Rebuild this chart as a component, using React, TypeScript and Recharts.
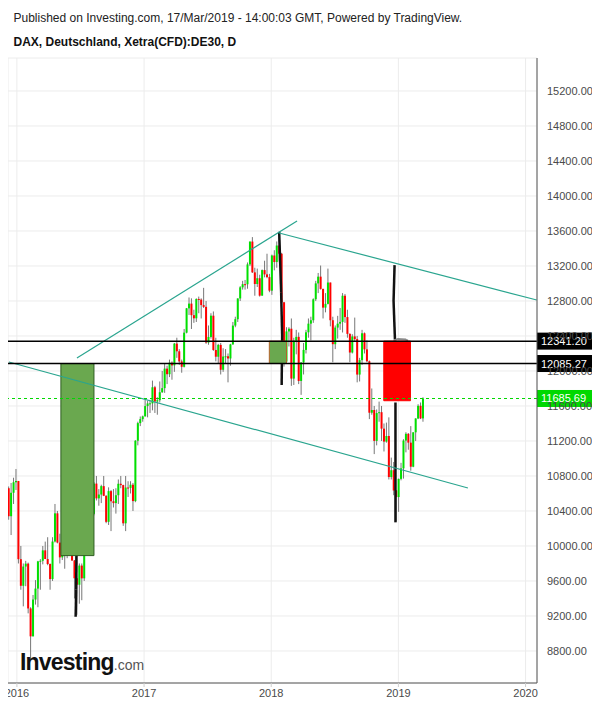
import React from 'react';
import {
  ComposedChart,
  Bar,
  XAxis,
  YAxis,
  CartesianGrid,
  ReferenceLine,
  ReferenceArea,
} from 'recharts';

// ---- weekly DAX CFD candles, first week = 7-11 Dec 2015 ----
const FIRST_WEEK = 2015.937;
const WEEK = 7 / 365.25;

const opens = [
  10660, 10340, 10608, 10728, 10743, 9849, 9545, 9765, 9798, 9286, 8967, 9388, 9513, 9824, 9831, 9950, 9851, 9794, 9622, 10051,
  10373, 10039, 9870, 9952, 9917, 10287, 10103, 9834, 9631, 9557, 9776, 9630, 10066, 10147, 10337, 10367, 10713, 10544, 10588, 10684,
  10573, 10276, 10627, 10511, 10490, 10580, 10711, 10696, 10259, 10668, 10664, 10700, 10513, 11203, 11404, 11450, 11481, 11599, 11629, 11630,
  11814, 11651, 11666, 11757, 11804, 12027, 11963, 12095, 12064, 12313, 12225, 12109, 12048, 12438, 12716, 12770, 12638, 12602, 12823, 12816,
  12753, 12733, 12325, 12389, 12632, 12240, 12163, 12298, 12014, 12165, 12168, 12143, 12304, 12519, 12592, 12829, 12956, 12992, 12991, 13218,
  13479, 13127, 12994, 13060, 12861, 13153, 13104, 13073, 12918, 13320, 13245, 13434, 13340, 12785, 12107, 12452, 12483, 11913, 12346, 12390,
  11886, 12097, 12241, 12442, 12541, 12580, 12820, 13001, 13078, 12938, 12724, 12767, 13011, 12580, 12306, 12496, 12541, 12561, 12860, 12616,
  12424, 12211, 12395, 12364, 11959, 12124, 12431, 12247, 12111, 11523, 11554, 11201, 11519, 11529, 11341, 11193, 11257, 10788, 10866, 10634,
  10559, 10767, 10887, 11205, 11282, 11181, 10906, 11299, 11457, 11602, 11458,
];
const highs = [
  10680, 10720, 10780, 10880, 10743, 10000, 9800, 9830, 9810, 9300, 9440, 9610, 9830, 9850, 10000, 10050, 10100, 9800, 10100, 10480,
  10400, 10140, 10080, 10000, 10300, 10340, 10270, 9840, 10300, 9800, 9800, 10100, 10170, 10340, 10380, 10730, 10800, 10650, 10700, 10800,
  10580, 10670, 10640, 10650, 10660, 10760, 10800, 10700, 10800, 10740, 10740, 10720, 11210, 11420, 11480, 11490, 11670, 11660, 11670, 11890,
  11830, 11700, 11880, 12000, 12090, 12060, 12130, 12110, 12320, 12380, 12250, 12130, 12480, 12720, 12840, 12830, 12700, 12830, 12850, 12830,
  12950, 12800, 12520, 12660, 12680, 12380, 12310, 12320, 12260, 12250, 12200, 12310, 12560, 12620, 12830, 12970, 13030, 13040, 13240, 13480,
  13530, 13180, 13170, 13100, 13160, 13260, 13340, 13110, 13330, 13380, 13480, 13596, 13350, 12790, 12500, 12500, 12600, 12380, 12470, 12440,
  12100, 12320, 12470, 12600, 12620, 12830, 13030, 13120, 13205, 12940, 12890, 13170, 13010, 12620, 12520, 12630, 12720, 12890, 12880, 12700,
  12430, 12420, 12610, 12400, 12150, 12470, 12440, 12350, 12120, 11800, 11600, 11560, 11650, 11600, 11400, 11410, 11470, 11010, 10960, 10640,
  10770, 10950, 11220, 11300, 11290, 11370, 11300, 11460, 11620, 11640, 11700,
];
const lows = [
  10300, 10125, 10480, 10640, 9800, 9500, 9310, 9540, 9230, 8700, 8967, 9330, 9300, 9500, 9790, 9850, 9780, 9500, 9600, 10040,
  10030, 9800, 9840, 9740, 9860, 10100, 9830, 9400, 9214, 9340, 9380, 9600, 9920, 10100, 10100, 10350, 10520, 10460, 10490, 10570,
  10260, 10240, 10170, 10440, 10370, 10480, 10660, 10230, 10170, 10560, 10600, 10400, 10500, 11150, 11370, 11420, 11480, 11470, 11520, 11550,
  11520, 11500, 11640, 11750, 11750, 11850, 11930, 11900, 11990, 12150, 12070, 11980, 12040, 12430, 12640, 12480, 12550, 12560, 12660, 12600,
  12720, 12310, 12300, 12370, 12230, 12110, 12090, 11960, 11990, 12080, 11870, 12060, 12300, 12500, 12560, 12800, 12930, 12930, 12940, 13200,
  13120, 12860, 12960, 12850, 12860, 13070, 13060, 12900, 12870, 13150, 13180, 13250, 12780, 12050, 12100, 12280, 11830, 11840, 12190, 11850,
  11727, 11960, 12200, 12380, 12350, 12550, 12800, 12890, 12930, 12600, 12670, 12760, 12510, 12100, 12250, 12370, 12470, 12440, 12550, 12380,
  12100, 12200, 12340, 11870, 11880, 12070, 12200, 12100, 11450, 11500, 11050, 11150, 11420, 11200, 11080, 11180, 10760, 10760, 10580, 10279,
  10390, 10750, 10770, 11070, 11100, 10860, 10900, 11200, 11450, 11450, 11420,
];
const closes = [
  10340, 10608, 10728, 10743, 9849, 9545, 9765, 9798, 9286, 8967, 9388, 9513, 9824, 9831, 9950, 9851, 9794, 9622, 10051, 10373,
  10039, 9870, 9952, 9917, 10287, 10103, 9834, 9631, 9557, 9776, 9630, 10066, 10147, 10337, 10367, 10713, 10544, 10588, 10684, 10573,
  10276, 10627, 10511, 10490, 10580, 10711, 10696, 10259, 10668, 10664, 10700, 10513, 11203, 11404, 11450, 11481, 11599, 11629, 11630, 11814,
  11651, 11666, 11757, 11804, 12027, 11963, 12095, 12064, 12313, 12225, 12109, 12048, 12438, 12716, 12770, 12638, 12602, 12823, 12816, 12753,
  12733, 12325, 12389, 12632, 12240, 12163, 12298, 12014, 12165, 12168, 12143, 12304, 12519, 12592, 12829, 12956, 12992, 12991, 13218, 13479,
  13127, 12994, 13060, 12861, 13153, 13104, 13073, 12918, 13320, 13245, 13434, 13340, 12785, 12107, 12452, 12483, 11913, 12346, 12390, 11886,
  12097, 12241, 12442, 12541, 12580, 12820, 13001, 13078, 12938, 12724, 12767, 13011, 12580, 12306, 12496, 12541, 12561, 12860, 12616, 12424,
  12211, 12395, 12364, 11959, 12124, 12431, 12247, 12111, 11523, 11554, 11201, 11519, 11529, 11341, 11193, 11257, 10788, 10866, 10634, 10559,
  10767, 10887, 11205, 11282, 11181, 10906, 11299, 11457, 11602, 11458, 11686,
];

// ---- axes ----
const yearTicks = [2016, 2017, 2018, 2019, 2020];
const priceTicks = [8800, 9200, 9600, 10000, 10400, 10800, 11200, 11600, 12000, 12400, 12800, 13200, 13600, 14000, 14400, 14800, 15200];
const X_DOMAIN: [number, number] = [2015.93, 2020.09];
const Y_DOMAIN: [number, number] = [8434, 15577];

// ---- drawings on the chart ----
const levelLines = [
  { price: 12341.2, label: '12341.20' },
  { price: 12085.27, label: '12085.27' },
];
const lastPrice = { price: 11685.69, label: '11685.69' };

const boxes = [
  { x1: 2016.346, x2: 2016.606, y1: 9890, y2: 12085, fill: '#6aa84f', stroke: '#2f5e22' },
  { x1: 2017.985, x2: 2018.12, y1: 12085, y2: 12341, fill: '#6aa84f', stroke: '#b5622a' },
  { x1: 2018.885, x2: 2019.095, y1: 11660, y2: 12341, fill: '#ff0000', stroke: '#ff0000' },
];

const trendLines: [number, number][][] = [
  [[2016.472, 12148], [2018.203, 13714]],
  [[2018.0625, 13577], [2020.088, 12811]],
  [[2015.937, 12103], [2019.547, 10663]],
];

const markerPaths: [number, number][][] = [
  [[2016.468, 9890], [2016.466, 9500], [2016.462, 9190]],
  [[2018.0625, 13590], [2018.078, 12900], [2018.086, 12400], [2018.082, 11840]],
  [[2018.97, 13210], [2018.962, 12800], [2018.973, 12360]],
  [[2018.977, 11640], [2018.977, 10270]],
];
const capPath: [number, number][] = [[2018.962, 12345], [2018.99, 12365], [2019.06, 12360], [2019.075, 12345]];

const rows = closes.map((c, i) => ({
  t: FIRST_WEEK + i * WEEK,
  o: opens[i],
  h: highs[i],
  l: lows[i],
  c,
  range: [lows[i], highs[i]],
}));

const Candle = (props: any) => {
  const { x, y, width, height, payload } = props;
  if (!payload || x == null) return null;
  const { o, h, l, c } = payload;
  const hgt = Math.abs(height);
  const top = Math.min(y, y + height);
  const k = h - l > 0 ? hgt / (h - l) : 0;
  const yo = top + (h - o) * k;
  const yc = top + (h - c) * k;
  const cx = x + width / 2;
  const bt = Math.min(yo, yc);
  const bh = Math.max(1, Math.abs(yo - yc));
  return (
    <g>
      <line x1={cx} x2={cx} y1={top} y2={top + hgt} stroke="#777" strokeWidth={1} />
      <rect x={cx - 1} y={bt} width={2} height={bh} fill={c >= o ? '#00e000' : '#ff0000'} />
    </g>
  );
};

const PriceTag = (props: any) => {
  const { viewBox, text, bg } = props;
  if (!viewBox) return null;
  const { x, y, width } = viewBox;
  const left = x + width;
  return (
    <g>
      <rect x={left} y={y - 8.5} width={56} height={17} fill={bg} />
      <text x={left + 4} y={y + 4} fill="#ffffff" fontSize={11} fontFamily="Arial, 'Liberation Sans', sans-serif">
        {text}
      </text>
    </g>
  );
};

const segs = (path: [number, number][]) =>
  path.slice(1).map((p, i) => [
    { x: path[i][0], y: path[i][1] },
    { x: p[0], y: p[1] },
  ]);

const FONT = "Arial, 'Liberation Sans', sans-serif";

export default function App() {
  return (
    <div style={{ position: 'relative', width: 592, height: 699, background: '#fff' }}>
      <ComposedChart
        width={592}
        height={699}
        data={rows}
        margin={{ top: 50, right: 0, bottom: 0, left: 0 }}
      >
        <CartesianGrid stroke="#ececec" />
        <XAxis
          type="number"
          dataKey="t"
          domain={X_DOMAIN}
          allowDataOverflow
          ticks={yearTicks}
          interval={0}
          tickFormatter={(v: number) => String(v)}
          height={24}
          stroke="#555"
          tickLine={{ stroke: '#cfcfcf' }}
          tickSize={4}
          tick={{ fontSize: 11, fill: '#4a4a4a', fontFamily: FONT }}
        />
        <YAxis
          orientation="right"
          domain={Y_DOMAIN}
          allowDataOverflow
          ticks={priceTicks}
          interval={0}
          width={63}
          stroke="#555"
          tickLine={false}
          tickMargin={4}
          tickFormatter={(v: number) => v.toFixed(2)}
          tick={{ fontSize: 11, fill: '#4a4a4a', fontFamily: FONT }}
        />
        <Bar dataKey="range" shape={<Candle />} barSize={2} isAnimationActive={false} />
        {markerPaths.flatMap((p, pi) =>
          segs(p).map((s, si) => (
            <ReferenceLine key={`m${pi}-${si}`} segment={s} stroke="#111" strokeWidth={2.5} zIndex={420} />
          ))
        )}
        {segs(capPath).map((s, si) => (
          <ReferenceLine key={`cap${si}`} segment={s} stroke="#8a8a8a" strokeWidth={2} zIndex={420} />
        ))}
        {boxes.map((b, i) => (
          <ReferenceArea
            key={`b${i}`}
            x1={b.x1}
            x2={b.x2}
            y1={b.y1}
            y2={b.y2}
            fill={b.fill}
            fillOpacity={1}
            stroke={b.stroke}
            strokeWidth={1}
            zIndex={450}
          />
        ))}
        {trendLines.map((p, i) => (
          <ReferenceLine
            key={`t${i}`}
            segment={[{ x: p[0][0], y: p[0][1] }, { x: p[1][0], y: p[1][1] }]}
            stroke="#2aa58f"
            strokeWidth={1.2}
            zIndex={460}
          />
        ))}
        {levelLines.map((l, i) => (
          <ReferenceLine
            key={`l${i}`}
            y={l.price}
            stroke="#000"
            strokeWidth={1.5}
            zIndex={470}
            label={<PriceTag text={l.label} bg="#000" />}
          />
        ))}
        <ReferenceLine
          y={lastPrice.price}
          stroke="#00d800"
          strokeDasharray="3 3"
          strokeWidth={1.2}
          zIndex={470}
          label={<PriceTag text={lastPrice.label} bg="#00d800" />}
        />
      </ComposedChart>
      <svg
        width={592}
        height={699}
        style={{ position: 'absolute', left: 0, top: 0, pointerEvents: 'none' }}
      >
        <text x={5.5} y={13.5} fontSize={12} fill="#222" fontFamily={FONT}>
          Published on Investing.com, 17/Mar/2019 - 14:00:03 GMT, Powered by TradingView.
        </text>
        <text x={5.5} y={37.5} fontSize={12} fontWeight="bold" fill="#111" fontFamily={FONT}>
          DAX, Deutschland, Xetra(CFD):DE30, D
        </text>
        <text x={12} y={662} fontFamily={FONT}>
          <tspan fontSize={23} fontWeight="bold" fill="#111" letterSpacing={-0.8}>Investing</tspan>
          <tspan fontSize={14} fill="#555">.com</tspan>
        </text>
      </svg>
    </div>
  );
}
